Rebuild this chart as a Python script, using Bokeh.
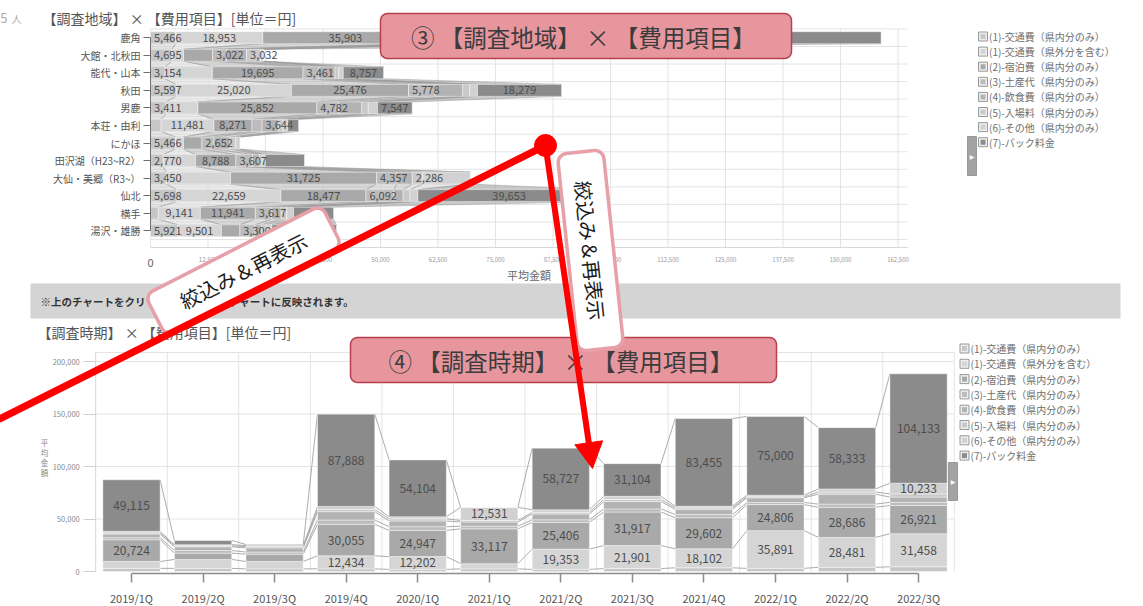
import numpy as np
from bokeh.plotting import figure
from bokeh.models import Range1d, LinearAxis, FixedTicker, ColumnDataSource, NumeralTickFormatter
from bokeh.core.properties import value
from bokeh.embed import file_html
from bokeh.resources import INLINE

# ---------------- data ----------------
series_names = ["(1)-交通費（県内分のみ）", "(1)-交通費（県外分を含む）", "(2)-宿泊費（県内分のみ）",
                "(3)-土産代（県内分のみ）", "(4)-飲食費（県内分のみ）", "(5)-入場料（県内分のみ）",
                "(6)-その他（県内分のみ）", "(7)-パック料金"]

region_names = ["鹿角", "大館・北秋田", "能代・山本", "秋田", "男鹿", "本荘・由利", "にかほ",
                "田沢湖（H23~R2）", "大仙・美郷（R3~）", "仙北", "横手", "湯沢・雄勝"]
region_s0 = [5466, 4695, 3154, 5597, 3411, 2300, 5466, 2770, 3450, 5698, 1700, 5921]
region_s1 = [18953, 2500, 10300, 25020, 6900, 11481, 1700, 7000, 13950, 22659, 9141, 9501]
region_s2 = [35903, 6294, 19695, 25476, 25852, 8271, 4000, 8788, 31725, 18477, 11941, 4000]
region_s3 = [3000, 3022, 3461, 5778, 4782, 2200, 2652, 3607, 4357, 6092, 3617, 3300]
region_s4 = [6000, 4364, 3500, 6000, 5000, 3644, 3500, 1500, 3415, 2000, 2000, 1500]
region_s5 = [1500, 3032, 800, 1500, 1400, 900, 1200, 600, 2286, 1500, 1200, 1000]
region_s6 = [3000, 600, 1000, 1716, 2000, 1000, 1000, 700, 10417, 1700, 1500, 1200]
region_s7 = [85000, 0, 8757, 18279, 7547, 2400, 0, 8500, 0, 39653, 8700, 14000]
region_labelled = [[0, 1, 2], [0, 3, 5], [0, 2, 3, 7], [0, 1, 2, 3, 7], [0, 2, 3, 7], [1, 2, 4],
                   [0, 3], [0, 2, 3], [0, 2, 3, 5], [0, 1, 2, 3, 7], [1, 2, 3], [0, 1, 3]]

quarters = ["2019/1Q", "2019/2Q", "2019/3Q", "2019/4Q", "2020/1Q", "2021/1Q",
            "2021/2Q", "2021/3Q", "2021/4Q", "2022/1Q", "2022/2Q", "2022/3Q"]
period_s0 = [3000, 3000, 2500, 2500, 2000, 2500, 2000, 2800, 3500, 3000, 4000, 4500]
period_s1 = [6500, 8500, 7000, 12434, 12202, 5000, 19353, 21901, 18102, 35891, 28481, 31458]
period_s2 = [20724, 6000, 7000, 30055, 24947, 33117, 25406, 31917, 29602, 24806, 28686, 26921]
period_s3 = [2000, 2500, 2000, 4000, 3500, 2500, 2500, 3000, 3000, 2000, 3000, 3000]
period_s4 = [3500, 3500, 4000, 8000, 5500, 4000, 5500, 7000, 5000, 4500, 9500, 5000]
period_s5 = [1000, 1000, 1200, 2000, 2000, 1500, 1500, 2000, 1500, 1000, 2000, 3000]
period_s6 = [1500, 1000, 1000, 3000, 2000, 12531, 2500, 3000, 1500, 1500, 3000, 10233]
period_s7 = [49115, 4000, 1000, 87888, 54104, 0, 58727, 31104, 83455, 75000, 58333, 104133]
period_label_min = 10000

top_ticks = list(range(0, 162501, 12500))
bottom_ticks = [0, 50000, 100000, 150000, 200000]

# ---------------- style / layout ----------------
FONT = "Noto Sans CJK JP"
colors = ["#c6c6c6", "#d5d5d5", "#a9a9a9", "#bcbcbc", "#b3b3b3", "#c9c9c9", "#d1d1d1", "#8b8b8b"]
W, H = 1143, 606
OX, OY = 0, 0                      # data coords == reference pixels
TX0, TXS = 150.0, 57.5 / 12500     # top chart: px of 0, px per yen
TY0, TYS = 37.2, 17.55             # top chart: px of row 0, px per row
BX0, BXS = 131.0, 71.55            # bottom chart: px of first quarter, px per quarter
BY0, BYS = 571.0, 52.5 / 50000     # bottom chart: px of 0 yen, px per yen
TOP_XMAX = 164500
BOT_YMAX = 208600
BAR_H = 0.68

p = figure(width=W, height=H, x_range=Range1d(OX, OX + W), y_range=Range1d(OY + H, OY),
           x_axis_type=None, y_axis_type=None, toolbar_location=None, output_backend="svg",
           min_border=0, outline_line_color=None, background_fill_color="white")
p.extra_x_ranges = {"tx": Range1d((OX - TX0) / TXS, (OX + W - TX0) / TXS),
                    "bx": Range1d((OX - BX0) / BXS, (OX + W - BX0) / BXS)}
p.extra_y_ranges = {"ty": Range1d((OY + H - TY0) / TYS, (OY - TY0) / TYS),
                    "by": Range1d(-(OY + H - BY0) / BYS, (BY0 - OY) / BYS)}
T = dict(x_range_name="tx", y_range_name="ty")
B = dict(x_range_name="bx", y_range_name="by")


def ty_px(py):
    return (py - TY0) / TYS


def cumulate(lists):
    arr = np.array(lists, dtype=float)
    tops = np.cumsum(arr, axis=0)
    return arr, tops - arr, tops


def rounded_rect(cx, cy, w, h, r, ang_deg, n=8):
    pts = []
    for ccx, ccy, st in [(w / 2 - r, h / 2 - r, 0), (-w / 2 + r, h / 2 - r, 90),
                         (-w / 2 + r, -h / 2 + r, 180), (w / 2 - r, -h / 2 + r, 270)]:
        for t in np.linspace(st, st + 90, n):
            pts.append((ccx + r * np.cos(np.radians(t)), ccy + r * np.sin(np.radians(t))))
    a = np.radians(ang_deg)
    xs = [cx + x * np.cos(a) + y * np.sin(a) for x, y in pts]
    ys = [cy - x * np.sin(a) + y * np.cos(a) for x, y in pts]
    return xs, ys


def txt(x, y, s, size, color="#555555", align="left", bold=False, angle=0.0, level="glyph", **kw):
    p.text(x=x, y=y, text=s, text_font=value(FONT), text_font_size=size, text_color=color,
           text_align=align, text_baseline="middle", angle=angle,
           text_font_style="bold" if bold else "normal", level=level, **kw)


# ---------------- titles / banner ----------------
txt([7], [17], ["5"], "13px", "#aaaaaa", align="right")
txt([11], [18], ["人"], "10px", "#aaaaaa")
txt([42], [17], ["【調査地域】 × 【費用項目】[単位＝円]"], "14px", "#555555")
p.quad(left=[30], right=[1120], top=[283], bottom=[318], fill_color="#d4d4d4", line_color=None)
txt([40], [300.5], ["※上のチャートをクリックすると、下のチャートに反映されます。"], "10.5px", "#333333", bold=True)
txt([37], [331], ["【調査時期】 × 【費用項目】[単位＝円]"], "14px", "#555555")

# ---------------- top chart ----------------
region_series = [region_s0, region_s1, region_s2, region_s3, region_s4, region_s5, region_s6, region_s7]
t_vals, t_left, t_right = cumulate(region_series)
nrow = len(region_names)
rows = np.arange(nrow)

p.segment(x0=top_ticks, y0=[-0.5] * len(top_ticks), x1=top_ticks, y1=[11.93] * len(top_ticks),
          line_color="#e4e4e4", line_width=1, **T)
hb = [r - 0.5 for r in range(nrow + 1)]
p.segment(x0=[0] * len(hb), y0=hb, x1=[TOP_XMAX] * len(hb), y1=hb, line_color="#e4e4e4", line_width=1, **T)

xs, ys, cs = [], [], []
for k in range(8):
    for i in range(nrow - 1):
        if t_vals[k][i] == 0 and t_vals[k][i + 1] == 0:
            continue
        xs.append([t_left[k][i], t_right[k][i], t_right[k][i + 1], t_left[k][i + 1]])
        ys.append([i + BAR_H / 2, i + BAR_H / 2, i + 1 - BAR_H / 2, i + 1 - BAR_H / 2])
        cs.append(colors[k])
p.patches(xs=xs, ys=ys, fill_color=cs, fill_alpha=0.45, line_color="#9a9a9a", line_alpha=0.6,
          line_width=0.8, **T)

for k in range(8):
    src = ColumnDataSource(dict(y=rows, left=t_left[k], right=t_right[k]))
    p.hbar(y="y", left="left", right="right", height=BAR_H, source=src, fill_color=colors[k],
           line_color="white", line_width=0.6, line_alpha=0.7, **T)

lx, ly, lt = [], [], []
for i in range(nrow):
    for k in region_labelled[i]:
        s = f"{int(t_vals[k][i]):,}"
        pad = (len(s) * 6.1 / 2 + 2) / TXS
        lx.append(max((t_left[k][i] + t_right[k][i]) / 2, t_left[k][i] + pad))
        ly.append(i)
        lt.append(s)
txt(lx, ly, lt, "11px", "#4d4d4d", align="center", **T)

ax_t = LinearAxis(fixed_location=11.93, ticker=FixedTicker(ticks=top_ticks),
                  formatter=NumeralTickFormatter(format="0,0"), bounds=(0, TOP_XMAX),
                  major_label_overrides={0: ""}, axis_line_color="#d9d9d9",
                  major_tick_line_color=None, minor_tick_line_color=None, major_tick_out=0,
                  major_label_text_font=FONT, major_label_text_font_size="6px",
                  major_label_text_color="#9a9a9a", major_label_standoff=10,
                  axis_label="平均金額", axis_label_text_font=FONT, axis_label_text_font_size="11px",
                  axis_label_text_color="#666666", axis_label_text_font_style="normal",
                  axis_label_standoff=1, **T)
p.add_layout(ax_t, "below")
txt([0], [ty_px(262)], ["0"], "11px", "#666666", align="center", **T)

ay_t = LinearAxis(fixed_location=0, ticker=FixedTicker(ticks=list(range(nrow))), bounds=(0, nrow - 1),
                  major_label_overrides={i: n for i, n in enumerate(region_names)},
                  axis_line_color="#707070", major_tick_line_color="#707070", major_tick_out=7,
                  major_tick_in=0, minor_tick_line_color=None, major_label_standoff=3,
                  major_label_text_font=FONT, major_label_text_font_size="10px",
                  major_label_text_color="#555555", **T)
p.add_layout(ay_t, "left")

# ---------------- bottom chart ----------------
period_series = [period_s0, period_s1, period_s2, period_s3, period_s4, period_s5, period_s6, period_s7]
b_vals, b_bot, b_top = cumulate(period_series)
nq = len(quarters)
qx = np.arange(nq)

gy = bottom_ticks[1:] + [BOT_YMAX]
p.segment(x0=[-0.5] * len(gy), y0=gy, x1=[nq - 0.5] * len(gy), y1=gy, line_color="#e4e4e4", **B)
gx = [i - 0.5 for i in range(nq + 1)]
p.segment(x0=gx, y0=[0] * len(gx), x1=gx, y1=[BOT_YMAX] * len(gx), line_color="#e4e4e4", **B)

for k in range(8):
    p.segment(x0=qx[:-1] + 0.4, y0=b_top[k][:-1], x1=qx[1:] - 0.4, y1=b_top[k][1:],
              line_color="#a3a3a3", line_width=0.9, **B)
for k in range(8):
    src = ColumnDataSource(dict(x=qx, bottom=b_bot[k], top=b_top[k]))
    p.vbar(x="x", bottom="bottom", top="top", width=0.8, source=src, fill_color=colors[k],
           line_color="white", line_width=0.6, line_alpha=0.7, **B)

bx, byy, bt = [], [], []
for i in range(nq):
    for k in range(8):
        if b_vals[k][i] >= period_label_min:
            bx.append(i)
            byy.append((b_bot[k][i] + b_top[k][i]) / 2)
            bt.append(f"{int(b_vals[k][i]):,}")
txt(bx, byy, bt, "12px", "#4d4d4d", align="center", **B)

ax_b = LinearAxis(fixed_location=-1905, ticker=FixedTicker(ticks=list(range(nq))), bounds=(0, nq - 1),
                  major_label_overrides={i: q for i, q in enumerate(quarters)},
                  axis_line_color="#8c8c8c", axis_line_width=1.5, major_tick_line_color="#8c8c8c",
                  major_tick_line_width=1.5, major_tick_out=9, major_tick_in=0,
                  minor_tick_line_color=None, major_label_standoff=7, major_label_text_font=FONT,
                  major_label_text_font_size="11px", major_label_text_color="#555555", **B)
p.add_layout(ax_b, "below")

ay_b = LinearAxis(fixed_location=-0.5, ticker=FixedTicker(ticks=bottom_ticks),
                  formatter=NumeralTickFormatter(format="0,0"), bounds=(0, BOT_YMAX),
                  axis_line_color="#dcdcdc", major_tick_line_color="#cfcfcf", major_tick_out=12,
                  major_tick_in=0, minor_tick_line_color=None, major_label_standoff=4,
                  major_label_text_font=FONT, major_label_text_font_size="7.5px",
                  major_label_text_color="#8a8a8a", **B)
p.add_layout(ay_b, "left")
txt([44] * 4, [442, 452, 462, 472], ["平", "均", "金", "額"], "7.5px", "#888888", align="center")

# ---------------- legends ----------------
for lx0, ly0, dy in [(982.5, 36, 15.1), (964, 348, 15.3)]:
    yy = [ly0 + dy * k for k in range(8)]
    p.rect(x=[lx0] * 8, y=yy, width=9, height=9, width_units="screen", height_units="screen",
           fill_color="#eeeeee", line_color="#999999", line_width=1)
    p.rect(x=[lx0] * 8, y=yy, width=5, height=5, width_units="screen", height_units="screen",
           fill_color=colors, line_color=None)
    txt([lx0 + 6] * 8, yy, series_names, "10px", "#6e6e6e")

# side tabs
p.quad(left=[967, 948], right=[976, 957], top=[136, 462], bottom=[175, 500],
       fill_color="#a3a3a3", line_color="#999999")
p.text(x=[971.5, 952.5], y=[155.5, 481], text=["▶", "▶"], text_font=value("DejaVu Sans"),
       text_font_size="6px", text_color="white", text_align="center", text_baseline="middle")

# ---------------- callouts ----------------
for cx, cy, w, label in [(585.5, 35.5, 411, "③  【調査地域】 × 【費用項目】"),
                         (563, 359.5, 426, "④  【調査時期】 × 【費用項目】")]:
    bxs, bys = rounded_rect(cx, cy, w, 45, 7, 0)
    p.patch(bxs, bys, fill_color="#e8969e", line_color="#b8404c", line_width=1.5, level="overlay")
    txt([cx], [cy + 1], [label], "23.5px", "#3c3c3c", align="center", level="overlay")

for cx, cy, ang in [(243, 270, 27), (590, 250, -84)]:
    bxs, bys = rounded_rect(cx, cy, 198, 46, 9, ang)
    p.patch(bxs, bys, fill_color="white", line_color="#e8a0a8", line_width=3.5, level="overlay")
    txt([cx], [cy], ["絞込み＆再表示"], "20px", "#1a1a1a", align="center",
        angle=np.radians(ang), level="overlay")

p.line([545, 0], [145, 418], line_color="#ff0000", line_width=7, line_cap="round", level="overlay")
p.line([545, 588.3], [145, 442.3], line_color="#ff0000", line_width=6, line_cap="round", level="overlay")
p.patch([592, 602.1, 574.4], [468, 440.3, 444.3], fill_color="#ff0000", line_color="#ff0000", level="overlay")
p.scatter(x=[545], y=[145], size=22, fill_color="#ff0000", line_color="#ff0000", level="overlay")

open("out.html", "w").write(file_html(p, INLINE))
